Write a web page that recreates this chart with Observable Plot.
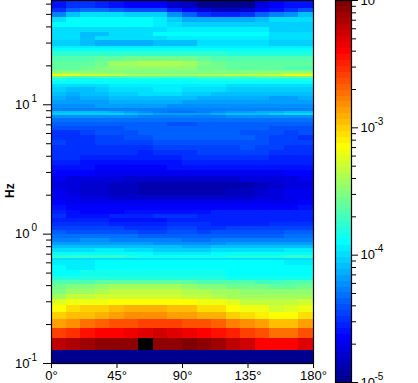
<!DOCTYPE html>
<html>
<head>
<meta charset="utf-8">
<script src="https://cdn.jsdelivr.net/npm/d3@7"></script>
<script src="https://cdn.jsdelivr.net/npm/@observablehq/plot@0.6"></script>
<style>
html,body{margin:0;padding:0;background:#fff;overflow:hidden}
#chart{position:relative;width:418px;height:383px;overflow:hidden}
#chart svg{position:absolute;top:0;background:transparent}
</style>
</head>
<body>
<div id="chart"></div>
<script>
// Azimuth bins, degrees (lower edge of each 10° column)
const azimuthEdges = [0,10,20,30,40,50,60,70,80,90,100,110,120,130,140,150,160,170,180];
// Frequency band edges, Hz, bottom to top
const bandEdgesHz = [0.1,0.125,0.156,0.1875,0.219,0.25,0.281,0.3125,0.344,0.375,0.406,0.4375,0.469,0.523,0.572,0.625,0.648,0.683,0.721,0.774,0.816,0.861,0.925,1.0,1.066,1.145,1.229,1.32,1.418,1.522,1.663,1.818,1.987,2.251,2.505,2.787,3.10,3.39,3.71,4.05,4.43,4.84,5.29,5.78,6.32,6.78,7.29,7.82,8.25,8.55,8.86,9.35,10.03,10.78,11.57,12.43,13.58,14.32,15.11,15.94,16.51,17.11,17.74,18.38,19.74,21.6,23.6,25.8,27.2,28.2,31.3,33.7,36.1,39.5,43.2,47.2,51.6,55.4,64];
// Spectral density per band and azimuth,
// in steps of 3/64 of a decade above 1e-5
const bandSteps = [
[0,0,0,0,0,0,0,0,0,0,0,0,0,0,0,0,0,0],
[60,61,62,62.5,63,63,70,63,63,63.5,63,62,60,59,56,56,56,58],
[52,53,55,56,56,57,58,59,58,57,56,55,54,52,51,49,49,50.5],
[46,47,49,50,51,51,52,52,52,51,51,50,48,46.5,46,44,44,45.5],
[42.5,43.5,44,45,46,46.5,47,47,46,46,45,44.5,43,42,41,40,40,41.5],
[40,41.5,43,43,44,45,45,45,44,43.5,41.5,42,40,38.5,38.5,37,38,39],
[37.5,38.5,39,39,40,40,40,40,40,40,39,38.5,37.5,36,36,35.5,35.5,36.5],
[34,35.5,35.5,36.5,37,37,37,37,37,36,35.5,35,34,33.5,33.5,33.5,33.5,33.5],
[32,34,34,35,35.5,35.5,36,36,35.5,35,34.5,33.5,33.5,32.5,32.5,32.5,32.5,32.5],
[31,31.5,32,33,33.5,33.5,34,34,34,33,31.5,32,31,30.5,30.5,29.5,30,31],
[29,29,29,29.5,30,30,30,30,30,30,29,29,28.7,28.7,28,27.5,28.5,29],
[25.5,25.5,25.5,26,26,26,26,26,26,26,25.5,25.5,25,25,25,25,25,25],
[24,24,24.5,25,25,25,25,25,25,24.5,24.5,24.5,24,24,24,24,24,24],
[24,23,23,24,24,24,24,24,24,24,24,24,24,24,24,24,24,24],
[23,22.5,22.5,23.5,23.5,23.5,23.5,24,24,24,24,24,23.5,23.5,23.5,23.5,23,23],
[22,22,22,22,22,22,22,22,22,22,22,22,22,22,22,21.5,21.5,21.5],
[27,27,27,27,26.5,26,25,25,24.5,24.5,24.5,25,26,26,26,26,27,27],
[24,24,24,24,24,24,24,23,23,23,23,23.5,24,24,24,24,24,24],
[22,22,22,22.5,22.5,22,21.5,21,21,21,21,21.5,22,22,22,22,22.5,22.5],
[20,20,20,20,20,20,19.5,19.5,19.5,19,19,19.5,20,20,20,20,20,20],
[18,18,18,18,18,17.5,17.5,17,17,17,17,17,17.5,18,18,18,18,18],
[16,16,16.5,16.5,16,16,15.5,15.5,15.5,15,15,15.5,15.5,16,16,15.5,16,16],
[15,15,15,14.5,14.5,14.5,14,14,14,14,13.5,14,14,14,14,14,15,15],
[13.5,13,13,13,12.5,12.5,12,12,12.5,12.5,12,12.5,12.5,13,12.5,13,13.5,13.5],
[12,12,12,11.5,11.5,11,11,11,11.5,11.5,11,11,11.5,11.5,11.5,12,12,12],
[11,11,10.5,10.5,10,10,10,9.5,10.5,10.5,10.5,10,10,10,10,10.5,11,11],
[10,10,9.5,9.5,9,9,9,9,10,10,10,10,9.5,9.5,9.5,10,10,10],
[10.5,9,9,9,9.5,10,10,10.5,10.5,10.5,10,10,10,10,10,10,10,10],
[10,8.5,8,8,8,8.5,9,8.5,9,9,9,9.5,9.5,9.5,9.5,9.5,9.5,9.5],
[8.5,8,8,8,8,8,8,8,8,8,8,8,8,8,8,8,8,8.5],
[7.5,7,7,7,6.5,6.5,6.5,6.5,6.5,6.5,6.5,6.5,6.5,6.5,6.5,7,7,7.5],
[7,6.5,6,5.5,5,4.5,4.5,4.5,4.5,4.5,4.5,4.5,5,5,5.5,6,6.5,7],
[6.5,6,5,5,4,3.5,2.5,2.5,2.5,3,3,3,4,4,4.5,5.5,6.5,6.5],
[5.5,5.5,5,4.5,4,3.5,2.5,2.5,2.5,3,3,3,3,3,4,5,5.5,5.5],
[6.5,6,6,5.5,5.5,5,5,5,5,5,5,5,5,5.5,5.5,6,6,6.5],
[7.5,7.5,7.5,7,7,7,6.5,6.5,6.5,6.5,6.5,7,7,7,7,7,7.5,7.5],
[8.5,8.5,8.5,8,8,7.5,8,8,8.5,8.5,9,8.5,8.5,8.5,8.5,8.5,8.5,8.5],
[9.5,9.5,9,9,9,8.5,8.5,9,9,9.5,9.5,10,10,10,9.5,9.5,9.5,9.5],
[10.5,10.5,10,9.5,9.5,9.5,10,10,10,10.5,10.5,11,11,10.5,10.5,10,10,10],
[11,11,10.5,10.5,10.5,10.5,10,10.5,11,11,11.5,11.5,11.5,11.5,11.5,11,10.5,10.5],
[11,10.5,10.5,10.5,10.5,11,11,12,12,12,12,12,12,12.5,12,11.5,11,11],
[11.5,11,11,11.5,11.5,12,12,12.5,12.5,12.5,13,13,13,13,12.5,12,11.5,11.5],
[11,11,11,11.5,12,12.5,13,13.5,13.5,13.5,13.5,13.5,13.5,13.5,13,12,11.5,11],
[10.5,11,12,12.5,13,13,13.5,14,14,14,14,13.5,13.5,13,13,12.5,12,12.5],
[13,13,13,13,13,13.5,13.5,14,14,14,14,14,14,13.5,13.5,13,13,13],
[13.5,13.5,13.5,13.5,14,14,14,14,13,13,13.5,14,14,14,14,14,13.5,13.5],
[15,15,15,15,15,15,15,15,15,15,15,15,15,15,15,15,15,15],
[17,17,17,17,17,16.5,16,16,16,16,16,16,16.5,17,17,17,17,17],
[21,21,21,21,20.5,20,18.5,17.5,17.5,17.5,18,19,20,20,20,21,21.5,21.5],
[19.5,19.5,19.5,19.5,19,18,17,16,15,15,16,17,18,18,18.5,19,19.5,19.5],
[15.5,15.5,15.5,15.5,15.5,15.5,15.5,15.5,15.5,15.5,15.5,15.5,15.5,15.5,15.5,15.5,15.5,15.5],
[17,17,17,17.5,17.5,17.5,17.5,17.5,17,17,17,17,17,17,17,17,17,17],
[18,17.5,18,18,18.5,18.5,18.5,18.5,18.5,18,18,18,18,18,18,18,18,18],
[19,18,18.5,19,19.5,19.5,20,20,20,19.5,19,19,18.5,18.5,18.5,18,18,18.5],
[19.5,19,19.5,20,20.5,21,21.5,21.5,21.5,21,20.5,20,20,19.5,19.5,19.5,19.5,19.5],
[20.5,20,20,21,21.5,22,22,22.5,22.5,22,21.5,21.5,21,21,21,21,21,21],
[22,21.5,22,22,22.5,22.5,22.5,23,22.5,22.5,22.5,22.5,22,22,22,22,22,22],
[23.5,23.5,23.5,23.5,23.5,23.5,23.5,23.5,23.5,23.5,24,24,24,24,24,23.5,23.5,23.5],
[25.5,25,25,25,25,25,25,25,25,25,25.5,25.5,25.5,25.5,25.5,25.5,25.5,25.5],
[30,29,28.5,28.5,28.5,28.5,28.5,28.5,28.5,28.5,29,29,29,29,29.5,30,30,30.5],
[38.5,38,37,36.5,35.5,35,35,34.5,34,34,34.5,35,35.5,35.5,36,37,38.5,39],
[33.5,33.5,33,33,32.5,32,32,32,32,32,32,32,32,32,32.5,33,33.5,33.5],
[32,32,32,32,32,32,32,32,32,32,32,32,32,32,32,32,32,32],
[30,30,31,31.5,32.5,32.5,33,33,33,32.5,31,30.5,30,30,30,29.5,29,28.5],
[29.5,29.5,30,31,34,34,34.5,34.5,34.5,34,32,31,30,30,30,29.5,29.5,29.5],
[28.5,28.5,28.5,29.5,30,30.5,31,31,31,30.5,29.5,29,28.5,28.5,28.5,28.5,28.5,28.5],
[26.5,26.5,26.5,26.5,27,27,27,27,27,27,26.5,26.5,26,26,26,26,26,26],
[23.5,23.5,23.5,23.5,23.5,23.5,23.5,23.5,23.5,23.5,23.5,23.5,23.5,23.5,23.5,23.5,23.5,23.5],
[22.5,22.5,22.5,22.5,22.5,22.5,22.5,22.5,22.5,22.5,22.5,22.5,22.5,22.5,22.5,22.5,22.5,22.5],
[21,21,20,19,19,19,19,20,20,20,21.5,21.5,21.5,21.5,21.5,21,21,21],
[21.5,21.5,20,21.5,21.5,21.5,21.5,21.5,23,23,23,23,23,23,23,22,22,22],
[22,22,20,20,22,22,22,24,24,24,24,24,24,24,24,22,22,22],
[21.5,21.5,21.5,22,22,22,22,22,22.5,22.5,22.5,22.5,22.5,22.5,22.5,21,21,21],
[24,24,24,24,24,24,24,23,22,21,20.5,20.5,20.5,20.5,21,21,21,21],
[22,24,24,24,24,24,24,23,21,19,18.5,18.5,18.5,18.5,20,22,22,22],
[16,20,21.5,21.5,21.5,20.5,20.5,20.5,17,14,11,9.5,9.5,10.5,13.5,16,17,20],
[11,14,15,15,14,13,13,13,10,8,5.5,3.5,3.5,5,7.5,9,11,13],
[9,10.5,10.5,10,9,8,8,7.5,4.5,3.5,0,0,0,1,5.5,7.5,8.5,9]
];
// Axis ticks
const freqMajor = [0.1,1,10];
const freqMinor = [0.2,0.3,0.4,0.5,0.6,0.7,0.8,0.9,2,3,4,5,6,7,8,9,20,30,40,50,60];
const angleTicks = [0,45,90,135,180];
const powerMajor = [1e-5,1e-4,1e-3,1e-2];
const powerMinor = [2e-5,3e-5,4e-5,5e-5,6e-5,7e-5,8e-5,9e-5,2e-4,3e-4,4e-4,5e-4,6e-4,7e-4,8e-4,9e-4,2e-3,3e-3,4e-3,5e-3,6e-3,7e-3,8e-3,9e-3];

// 64-step jet colormap, black above the top of the range
const nLevels = 64;
const clamp01 = v => Math.max(0, Math.min(1, v));
const jetColor = k => {
  const v = (k + 1) / nLevels;
  const r = clamp01(Math.min(4*v-1.5, -4*v+4.5));
  const g = clamp01(Math.min(4*v-0.5, -4*v+3.5));
  const b = clamp01(Math.min(4*v+0.5, -4*v+2.5));
  return `rgb(${Math.round(r*255)},${Math.round(g*255)},${Math.round(b*255)})`;
};
const levelEdge = k => 10 ** (-5 + 3 * k / nLevels);
const colorScale = {
  type: "threshold",
  domain: d3.range(1, nLevels + 1).map(levelEdge),
  range: [...d3.range(nLevels).map(jetColor), "#000"]
};

const cells = [];
bandSteps.forEach((row, i) => row.forEach((s, j) => cells.push({
  a1: azimuthEdges[j], a2: azimuthEdges[j+1],
  f1: bandEdgesHz[i], f2: bandEdgesHz[i+1],
  power: 10 ** (-5 + 3 * (s - 0.5) / nLevels)
})));

const font = {fontFamily: "'Liberation Sans', Arial, sans-serif", fontSize: "13px", color: "#000"};

const main = Plot.plot({
  width: 330, height: 383,
  marginLeft: 51, marginRight: 17, marginTop: 0, marginBottom: 20,
  style: font,
  x: {domain: [0,180], axis: null},
  y: {type: "log", domain: [0.1,64], axis: null},
  color: colorScale,
  marks: [
    Plot.rect(cells, {x1:"a1", x2:"a2", y1:"f1", y2:"f2", fill:"power", shapeRendering:"crispEdges"}),
    Plot.frame({stroke:"#000", strokeWidth:1.2}),
    Plot.axisY({ticks: freqMinor, tickFormat: () => "", tickSize: 5, stroke:"#000"}),
    Plot.axisY({ticks: freqMajor, tickFormat: () => "10", tickSize: 8, tickPadding: 14, stroke:"#000"}),
    Plot.text(freqMajor, {y: d => d, frameAnchor:"left", text: d => String(Math.round(Math.log10(d))), textAnchor:"end", dx:-14.5, dy:-6, fontSize:10}),
    Plot.axisX({ticks: angleTicks, tickFormat: d => d + "°", tickSize: 5, tickPadding: 2, stroke:"#000"}),
    Plot.text(["Hz"], {frameAnchor:"left", text: d => d, rotate:-90, dx:-41, dy:16, fontWeight:"bold", fontSize:12})
  ]
});
main.style.left = "0px";

const levels = d3.range(nLevels).map(k => ({p1: levelEdge(k), p2: levelEdge(k+1)}));
const bar = Plot.plot({
  width: 88, height: 383,
  marginLeft: 5, marginRight: 67, marginTop: 0, marginBottom: 1,
  style: font,
  x: {domain: [0,1], axis: null},
  y: {type: "log", domain: [1e-5,1e-2], axis: null},
  color: colorScale,
  marks: [
    Plot.rect(levels, {x1:0, x2:1, y1:"p1", y2:"p2", fill: d => Math.sqrt(d.p1*d.p2), shapeRendering:"crispEdges"}),
    Plot.frame({stroke:"#000", strokeWidth:1.2}),
    Plot.axisY({anchor:"right", ticks: powerMinor, tickFormat: () => "", tickSize: 4, stroke:"#000"}),
    Plot.axisY({anchor:"right", ticks: powerMajor, tickFormat: () => "10", tickSize: 6, tickPadding: 3, stroke:"#000"}),
    Plot.text(powerMajor, {y: d => d, frameAnchor:"right", text: d => String(Math.round(Math.log10(d))), textAnchor:"start", dx:23, dy:-6, fontSize:10})
  ]
});
bar.style.left = "330px";

document.getElementById("chart").append(main, bar);
</script>
</body>
</html>
